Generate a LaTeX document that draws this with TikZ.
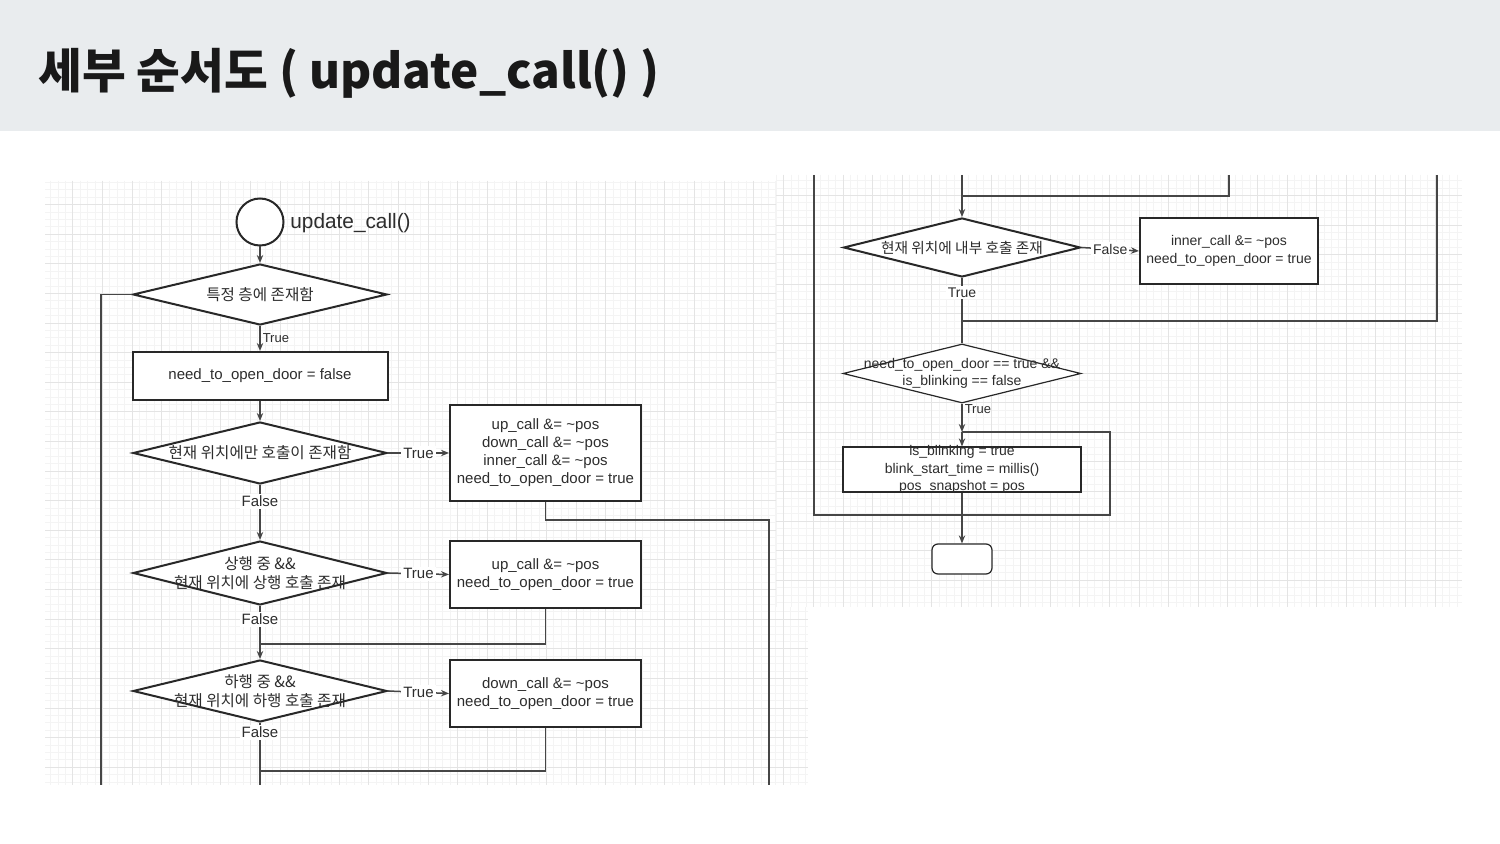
\documentclass[tikz,border=0pt]{standalone}
\usepackage{fontspec}
\setmainfont{Liberation Sans}
\newfontfamily\kr{Noto Sans CJK KR}
\usetikzlibrary{shapes.geometric,arrows.meta}
\definecolor{band}{RGB}{233,236,238}
\definecolor{ink}{RGB}{40,40,40}
\definecolor{wirec}{RGB}{70,70,70}
\definecolor{gminor}{RGB}{244,244,244}
\definecolor{gmajor}{RGB}{228,228,228}
\definecolor{txt}{RGB}{45,45,45}
\begin{document}
\begin{tikzpicture}[x=0.5pt,y=-0.5pt,
  shp/.style={draw=ink,line width=1pt,fill=white,inner sep=0pt},
  dia/.style={shp,diamond},
  box/.style={shp,rectangle},
  thinline/.style={line width=0.6pt},
  lbl/.style={font=\fontsize{7.5}{9}\selectfont,text=txt,align=center,inner sep=0pt},
  lbls/.style={font=\fontsize{7}{8.8}\selectfont,text=txt,align=center,inner sep=0pt},
  smalllbl/.style={font=\fontsize{6.5}{8}\selectfont,text=txt,inner sep=0pt},
  krl/.style={font=\kr\fontsize{7.8}{9.4}\selectfont,text=txt,align=center,inner sep=0pt},
  krs/.style={font=\kr\fontsize{7.35}{9}\selectfont,text=txt,align=center,inner sep=0pt},
  wire/.style={draw=wirec,line width=0.75pt},
  arr/.style={wire,-{Stealth[length=4pt,width=3.2pt]}},
  edgelbl/.style={lbl,fill=white,inner sep=1pt},
  gmin/.style={draw=gminor,line width=0.5pt},
  gmaj/.style={draw=gmajor,line width=0.5pt},
]
\useasboundingbox (0,0) rectangle (1500,844);
\fill[white] (0,0) rectangle (1500,844);
\fill[band] (0,0) rectangle (1500,131);
\node[anchor=base west,inner sep=0pt,font=\kr\bfseries\fontsize{23.8}{28}\selectfont,text=black!90] (title) at (38,89) {세부 순서도 ( update\_call() )};

% ---------- left panel grid ----------
\begin{scope}
\clip (45,181) rectangle (808,785);
\foreach \i in {-12,...,92} {\draw[gmin] ({132+7.4*\i},181) -- ({132+7.4*\i},785);}
\foreach \i in {-12,...,71} {\draw[gmin] (45,{264+7.4*\i}) -- (808,{264+7.4*\i});}
\foreach \i in {-3,...,23} {\draw[gmaj] ({132+29.6*\i},181) -- ({132+29.6*\i},785);}
\foreach \i in {-3,...,18} {\draw[gmaj] (45,{264+29.6*\i}) -- (808,{264+29.6*\i});}
\end{scope}

% ---------- left panel nodes ----------
\node[circle,shp,minimum size=23.5pt] (start) at (260,222) {};
\node[anchor=west,font=\fontsize{10.4}{12}\selectfont,text=txt,inner sep=0pt] (startlbl) at (290,223) {update\_call()};
\node[dia,minimum width=127pt,minimum height=30.5pt] (d1) at (260,294.5) {};
\node[box,minimum width=127.5pt,minimum height=24pt] (r1) at (260,376) {};
\node[dia,minimum width=127pt,minimum height=31pt] (d2) at (260,453) {};
\node[box,minimum width=95.5pt,minimum height=48pt] (r2) at (545.5,453) {};
\node[dia,minimum width=127pt,minimum height=32pt] (d3) at (260,573) {};
\node[box,minimum width=95.5pt,minimum height=33.5pt] (r3) at (545.5,574.5) {};
\node[dia,minimum width=127pt,minimum height=31pt] (d4) at (260,691) {};
\node[box,minimum width=95.5pt,minimum height=33.5pt] (r4) at (545.5,693.5) {};

% ---------- left panel connectors ----------
\draw[arr] (start.south) -- (d1.north);
\draw[arr] (d1.south) -- node[smalllbl,anchor=west,xshift=1pt] (l1) {True} (r1.north);
\draw[arr] (r1.south) -- (d2.north);
\draw[arr] (d2.east) -- node[edgelbl] (l2) {True} (r2.west);
\draw[arr] (d2.south) -- node[edgelbl,pos=0.3] (l3) {False} (d3.north);
\draw[arr] (d3.east) -- node[edgelbl] (l4) {True} (r3.west);
\draw[arr] (d3.south) -- node[edgelbl,pos=0.25] (l5) {False} (d4.north);
\coordinate (m1) at (260,644);
\draw[wire] (r3.south) |- (m1);
\draw[arr] (d4.east) -- node[edgelbl] (l6) {True} (r4.west);
\coordinate (e1) at (260,785);
\draw[wire] (d4.south) -- node[edgelbl,pos=0.15] (l7) {False} (e1);
\coordinate (m2) at (260,771);
\draw[wire] (r4.south) |- (m2);
\coordinate (e2) at (101,785);
\draw[wire] (d1.west) -| (e2);
\coordinate (k1) at (769,520);
\coordinate (e3) at (769,785);
\draw[wire] (r2.south) |- (k1) -- (e3);

% ---------- left panel texts ----------
\node[krl] (t1) at (d1) {특정 층에 존재함};
\node[lbl] (t2) at (r1) {need\_to\_open\_door = false};
\node[krl] (t3) at (d2) {현재 위치에만 호출이 존재함};
\node[lbl] (t4) at (r2) {up\_call \&= \textasciitilde pos\\down\_call \&= \textasciitilde pos\\inner\_call \&= \textasciitilde pos\\need\_to\_open\_door = true};
\node[krl] (t5) at (d3) {상행 중 \&\&\\현재 위치에 상행 호출 존재};
\node[lbl] (t6) at (r3) {up\_call \&= \textasciitilde pos\\need\_to\_open\_door = true};
\node[krl] (t7) at (d4) {하행 중 \&\&\\현재 위치에 하행 호출 존재};
\node[lbl] (t8) at (r4) {down\_call \&= \textasciitilde pos\\need\_to\_open\_door = true};

% ---------- right panel ----------
\fill[white] (776,175) rectangle (1462,607);
\begin{scope}
\clip (776,175) rectangle (1462,607);
\foreach \i in {-10,...,84} {\draw[gmin] ({843+7.4*\i},175) -- ({843+7.4*\i},607);}
\foreach \i in {-23,...,36} {\draw[gmin] (776,{343.5+7.4*\i}) -- (1462,{343.5+7.4*\i});}
\foreach \i in {-3,...,21} {\draw[gmaj] ({843+29.6*\i},175) -- ({843+29.6*\i},607);}
\foreach \i in {-6,...,9} {\draw[gmaj] (776,{343.5+29.6*\i}) -- (1462,{343.5+29.6*\i});}
\end{scope}

\node[dia,minimum width=118.5pt,minimum height=29.5pt] (d5) at (962,247.5) {};
\node[box,minimum width=89pt,minimum height=33pt] (r5) at (1229,251) {};
\node[dia,thinline,minimum width=119pt,minimum height=29.5pt] (d6) at (962,373.5) {};
\node[box,thinline,minimum width=119pt,minimum height=22.5pt] (r6) at (962,469.5) {};
\node[box,thinline,rounded corners=3pt,minimum width=30pt,minimum height=15pt] (term) at (962,559) {};

\coordinate (a0) at (962,175);
\draw[arr] (a0) -- (d5.north);
\coordinate (a1) at (1229,175);
\coordinate (a2) at (962,196);
\draw[wire] (a1) |- (a2);
\coordinate (a3) at (1437,175);
\coordinate (a4) at (962,321);
\draw[wire] (a3) |- (a4);
\draw[arr] (d5.east) -- node[edgelbl,font=\fontsize{7}{8.8}\selectfont] (l8) {False} (r5.west);
\draw[wire] (d5.south) -- node[edgelbl,font=\fontsize{7}{8.8}\selectfont,pos=0.22] (l9) {True} (d6.north);
\coordinate (b1) at (962,432);
\draw[arr] (d6.south) -- node[smalllbl,anchor=west,xshift=1pt,pos=0.2] (l10) {True} (b1);
\coordinate (b0) at (814,175);
\coordinate (b2) at (814,515);
\coordinate (b3) at (1110,515);
\coordinate (b4) at (1110,432);
\draw[wire] (b0) -- (b2) -- (b3) -- (b4) -- (b1);
\draw[arr] (b1) -- (r6.north);
\draw[arr] (r6.south) -- (term.north);

\node[krs] (t9) at (d5) {현재 위치에 내부 호출 존재};
\node[lbls] (t10) at (r5) {inner\_call \&= \textasciitilde pos\\need\_to\_open\_door = true};
\node[lbls] (t11) at (d6) {need\_to\_open\_door == true \&\&\\is\_blinking == false};
\node[lbls] (t12) at (r6) {is\_blinking = true\\blink\_start\_time = millis()\\pos\_snapshot = pos};
\end{tikzpicture}
\end{document}
